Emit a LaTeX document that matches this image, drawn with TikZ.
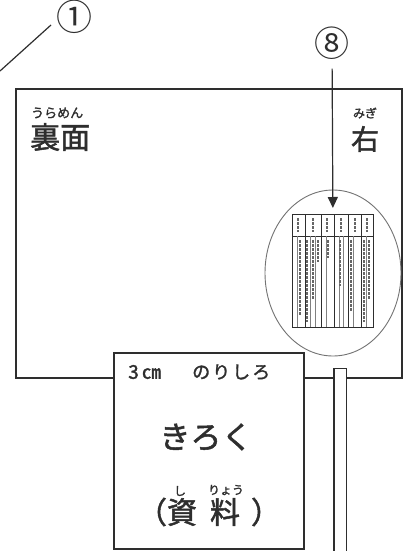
\documentclass[tikz,border=0pt]{standalone}
\usepackage{fontspec}
\newfontfamily\jp[FakeBold=1.6]{Noto Sans CJK JP}
\newfontfamily\jpn{Noto Sans CJK JP}
\usetikzlibrary{arrows.meta,shapes.geometric}
\definecolor{ink}{HTML}{2E2E2E}
\tikzset{
  frame/.style={draw=ink, line width=1.7pt, inner sep=0pt, anchor=north west},
  jpt/.style={inner sep=0pt, text=ink, font=\jp\fontsize{#1}{#1}\selectfont},
  jps/.style={inner sep=0pt, text=ink, font=\jpn\fontsize{#1}{#1}\selectfont},
  thin/.style={draw=ink, line width=0.6pt},
  textmark/.style={draw=black!60, line width=1.6pt, dash pattern=on 2.5pt off 1.5pt},
}
\begin{document}
\begin{tikzpicture}[x=1pt,y=-1pt]
\useasboundingbox[fill=white] (0,0) rectangle (406,551);
% back sheet
\node[frame, minimum width=386pt, minimum height=289pt] (back) at (15,88) {};
% glue flap
\node[frame, fill=white, minimum width=190pt, minimum height=196pt] (flap) at (113,352) {};
% strip
\node[frame, fill=white, line width=1pt, minimum width=12pt, minimum height=200pt] (strip) at (334,368) {};
\draw[ink, line width=1.7pt] (strip.north west) -- ++(0,200);
% oval
\node[draw=black!55, line width=0.9pt, ellipse, minimum width=136pt, minimum height=166pt, inner sep=0pt] (oval) at (333,273) {};
% table in oval
\node[thin, line width=0.8pt, minimum width=81pt, minimum height=113pt, inner sep=0pt, anchor=north west] (tbl) at (292,214) {};
\draw[thin] (292,236) -- (373,236);
\foreach \x in {305,321,334,348,361} {\draw[thin] (\x,214) -- (\x,327);}
\foreach \x in {297,310,315,326,339,343,353,366} {\draw[black!50, line width=0.4pt] (\x,236) -- (\x,327);}
\foreach \x/\a/\b in {298/218/232, 313/218/232, 327/218/232, 341/218/232, 355/218/232, 367/218/232} {\draw[textmark] (\x,\a) -- (\x,\b);}
\foreach \x/\a/\b in {300/240/316, 307/240/322, 313/240/300, 318/240/262, 328/240/258, 340/240/286, 351/240/312, 364/240/322, 369/240/300} {\draw[textmark, line width=1.4pt] (\x,\a) -- (\x,\b);}
% circled numbers
\node[jps=36] (c1) at (74,17) {①};
\node[jps=35] (c8) at (332,43) {⑧};
\coordinate (lend) at (0,71);
\coordinate (ltip) at (51,25);
\draw[ink, line width=1.2pt] (lend) -- (ltip);
\draw[ink, line width=1.2pt, -{Triangle[length=11pt,width=10pt]}, shorten <=9pt, shorten >=6pt] (c8) -- (tbl.north);
% labels
\node[jpt=13, anchor=west] (ura-r) at (31,113) {うらめん};
\node[jpt=30, anchor=west] (ura) at (30,137) {裏面};
\node[jpt=12] (migi-r) at (365,113) {みぎ};
\node[jpt=28] (migi) at (365,139) {右};
\node[jpt=19, anchor=west] (cm) at (128,372) {3\,㎝};
\node[jpt=18, anchor=west] (nori) at (192,372) {の\hspace{2pt}り\hspace{2pt}し\hspace{2pt}ろ};
\node[jpt=31] (kiroku) at (206,437) {きろく};
\node[jpt=30] (lp) at (152,512) {（};
\node[jpt=30] (shi) at (182,512) {資};
\node[jpt=30] (ryo) at (225,512) {料};
\node[jpt=30] (rp) at (266,512) {）};
\node[jpt=12] (shi-r) at (180,491) {し};
\node[jpt=12] (ryo-r) at (226,490) {りょう};
\end{tikzpicture}
\end{document}
